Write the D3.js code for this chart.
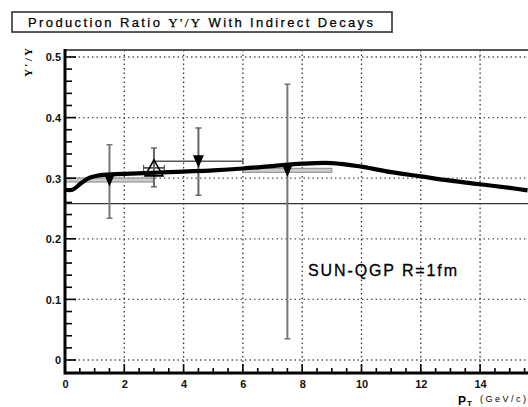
<!DOCTYPE html>
<html><head><meta charset="utf-8">
<script src="https://cdn.jsdelivr.net/npm/d3@7"></script>
<style>body{margin:0;background:#fff} svg{display:block}</style>
</head><body>
<svg id="c" width="528" height="407"></svg>
<script>
// ---- data ----
const xTickValues = [0, 2, 4, 6, 8, 10, 12, 14];
const xTickLabels = ["0", "2", "4", "6", "8", "10", "12", "14"];
const yTickValues = [0, 0.1, 0.2, 0.3, 0.4, 0.5];
const yTickLabels = ["0", "0.1", "0.2", "0.3", "0.4", "0.5"];

// SUN-QGP R=1fm model curve
const curveX = [0, 0.25, 0.5, 0.8, 1.2, 2, 3, 4, 5, 6, 7, 8, 9, 10, 11, 12, 13, 14, 15, 15.6];
const curveY = [0.281, 0.281, 0.29, 0.30, 0.305, 0.307, 0.309, 0.311, 0.313, 0.316, 0.32, 0.324, 0.325, 0.319, 0.31, 0.303, 0.296, 0.29, 0.284, 0.28];

// reference horizontal line
const refLevel = 0.258;

// grey series (filled down triangles, grey bars)
const greyX = [1.5, 7.5];
const greyY = [0.297, 0.313];
const greyXErr = [1.5, 1.5];
const greyYLow = [0.234, 0.035];
const greyYHigh = [0.355, 0.455];

// black series, filled down triangle
const blackX = [4.5];
const blackY = [0.328];
const blackXErr = [1.5];
const blackYLow = [0.272];
const blackYHigh = [0.383];

// open up triangle
const openX = [3.0];
const openY = [0.317];
const openXErr = [0.35];
const openYLow = [0.286];
const openYHigh = [0.35];

// ---- layout ----
const svg = d3.select("#c");
const W = 528, H = 407;
const x = d3.scaleLinear().domain([0, 16]).range([65, 539.4]);
const y = d3.scaleLinear().domain([0, 0.5]).range([360, 57]);
const yTop = y.invert(50), yBot = y.invert(373);

svg.append("rect").attr("width", W).attr("height", H).attr("fill", "#fff");

const defs = svg.append("defs");
defs.append("clipPath").attr("id", "clip").append("rect")
  .attr("x", x(0)).attr("y", y(yTop)).attr("width", x(16) - x(0)).attr("height", y(yBot) - y(yTop));

const plot = svg.append("g").attr("clip-path", "url(#clip)");

// grid
plot.selectAll(".hg").data(yTickValues).join("line")
  .attr("x1", x(0)).attr("x2", x(16)).attr("y1", d => y(d)).attr("y2", d => y(d))
  .attr("stroke", "#555").attr("stroke-width", 1.3).attr("stroke-dasharray", "1.5,3");
plot.selectAll(".vg").data([2, 4, 6, 8, 10, 12, 14]).join("line")
  .attr("x1", d => x(d)).attr("x2", d => x(d)).attr("y1", y(yTop)).attr("y2", y(yBot))
  .attr("stroke", "#333").attr("stroke-width", 1.3).attr("stroke-dasharray", "1.5,3");

// reference line
plot.append("line").attr("x1", x(0)).attr("x2", x(16)).attr("y1", y(refLevel)).attr("y2", y(refLevel))
  .attr("stroke", "#333").attr("stroke-width", 1.3);

// grey error bars
greyX.forEach((xv, i) => {
  plot.append("rect").attr("x", x(xv - greyXErr[i])).attr("y", y(greyY[i]) - 2)
    .attr("width", x(xv + greyXErr[i]) - x(xv - greyXErr[i])).attr("height", 4)
    .attr("fill", "#ccc").attr("stroke", "#888").attr("stroke-width", 1);
  plot.append("line").attr("x1", x(xv)).attr("x2", x(xv)).attr("y1", y(greyYLow[i])).attr("y2", y(greyYHigh[i]))
    .attr("stroke", "#777").attr("stroke-width", 2);
  [greyYLow[i], greyYHigh[i]].forEach(v => plot.append("line")
    .attr("x1", x(xv) - 3).attr("x2", x(xv) + 3).attr("y1", y(v)).attr("y2", y(v))
    .attr("stroke", "#777").attr("stroke-width", 1.5));
});

// black/open error bars
function errBars(xs, ys, xe, lo, hi) {
  xs.forEach((xv, i) => {
    plot.append("line").attr("x1", x(xv - xe[i])).attr("x2", x(xv + xe[i])).attr("y1", y(ys[i])).attr("y2", y(ys[i]))
      .attr("stroke", "#555").attr("stroke-width", 1.6);
    [xv - xe[i], xv + xe[i]].forEach(e => plot.append("line")
      .attr("x1", x(e)).attr("x2", x(e)).attr("y1", y(ys[i]) - 3).attr("y2", y(ys[i]) + 3)
      .attr("stroke", "#555").attr("stroke-width", 1.2));
    plot.append("line").attr("x1", x(xv)).attr("x2", x(xv)).attr("y1", y(lo[i])).attr("y2", y(hi[i]))
      .attr("stroke", "#666").attr("stroke-width", 2);
    [lo[i], hi[i]].forEach(v => plot.append("line")
      .attr("x1", x(xv) - 3).attr("x2", x(xv) + 3).attr("y1", y(v)).attr("y2", y(v))
      .attr("stroke", "#666").attr("stroke-width", 1.5));
  });
}
errBars(blackX, blackY, blackXErr, blackYLow, blackYHigh);
errBars(openX, openY, openXErr, openYLow, openYHigh);

// curve
const line = d3.line().x(d => x(d[0])).y(d => y(d[1])).curve(d3.curveCatmullRom.alpha(0.5));
plot.append("path").datum(curveX.map((v, i) => [v, curveY[i]]))
  .attr("d", line).attr("fill", "none").attr("stroke", "#000").attr("stroke-width", 4.2)
  .attr("stroke-linejoin", "round");

// markers
const downTri = (cx, cy, s) => `M${cx - s * 0.5},${cy - s * 0.55}L${cx + s * 0.5},${cy - s * 0.55}L${cx},${cy + s * 0.6}Z`;
greyX.concat(blackX).forEach((xv, i) => {
  const yv = greyY.concat(blackY)[i];
  plot.append("path").attr("d", downTri(x(xv), y(yv), 11)).attr("fill", "#000");
});
openX.forEach((xv, i) => {
  const cx = x(xv), cy = y(openY[i]);
  plot.append("path").attr("d", `M${cx - 9},${cy + 8}L${cx + 9},${cy + 8}L${cx},${cy - 8}Z`)
    .attr("fill", "none").attr("stroke", "#000").attr("stroke-width", 1.6);
});

// frame top
svg.append("line").attr("x1", x(0)).attr("x2", W).attr("y1", 50).attr("y2", 50)
  .attr("stroke", "#555").attr("stroke-width", 2.2);

// axes
const fontT = "'Liberation Sans', Arial, sans-serif";
const xMinor = d3.range(0, 16.01, 0.5);
svg.selectAll(".xmin").data(xMinor).join("line")
  .attr("x1", d => x(d)).attr("x2", d => x(d)).attr("y1", 373)
  .attr("y2", d => (d % 2 === 0) ? 364 : 368)
  .attr("stroke", "#000").attr("stroke-width", 1.6);
const yMinor = d3.range(0, 0.511, 0.02);
svg.selectAll(".ymin").data(yMinor).join("line")
  .attr("x1", 65).attr("x2", (d, i) => (i % 5 === 0) ? 76 : 72)
  .attr("y1", d => y(d)).attr("y2", d => y(d))
  .attr("stroke", "#000").attr("stroke-width", 1.6);

const xAxis = d3.axisBottom(x).tickValues(xTickValues).tickSize(0).tickFormat((d, i) => xTickLabels[i]);
const gx = svg.append("g").attr("transform", "translate(0,373)").call(xAxis);
gx.select(".domain").remove();
gx.selectAll("text").attr("dy", null).attr("y", 15).attr("font-family", fontT)
  .attr("font-size", 11).attr("font-weight", "bold").attr("fill", "#111");

const yAxis = d3.axisLeft(y).tickValues(yTickValues).tickSize(0).tickFormat((d, i) => yTickLabels[i]);
const gy = svg.append("g").attr("transform", "translate(65,0)").call(yAxis);
gy.select(".domain").remove();
gy.selectAll("text").attr("x", -4).attr("dy", "0.35em").attr("font-family", fontT)
  .attr("font-size", 11).attr("font-weight", "bold").attr("fill", "#111");

svg.append("line").attr("x1", 65).attr("x2", W).attr("y1", 373).attr("y2", 373)
  .attr("stroke", "#000").attr("stroke-width", 3);
svg.append("line").attr("x1", 65).attr("x2", 65).attr("y1", 49).attr("y2", 374.5)
  .attr("stroke", "#000").attr("stroke-width", 3);

// title box
svg.append("rect").attr("x", 12).attr("y", 12).attr("width", 380).attr("height", 20)
  .attr("fill", "#fff").attr("stroke", "#333").attr("stroke-width", 1.6);
svg.append("line").attr("x1", 14).attr("x2", 393).attr("y1", 32.5).attr("y2", 32.5).attr("stroke", "#555").attr("stroke-width", 1.2);
const tt = svg.append("text").attr("x", 28).attr("y", 27).attr("font-family", fontT)
  .attr("font-size", 13).attr("fill", "#000").attr("stroke", "#000").attr("stroke-width", 0.25)
  .attr("textLength", 345).attr("lengthAdjust", "spacing");
tt.append("tspan").text("Production Ratio   ");
tt.append("tspan").attr("font-family", "'Liberation Serif', serif").text("Υ'/Υ");
tt.append("tspan").text(" With Indirect Decays");

// y label
svg.append("text").attr("transform", "translate(32,77) rotate(-90)")
  .attr("font-family", "'Liberation Serif', serif").attr("font-size", 11).attr("font-weight", "bold")
  .attr("textLength", 29).attr("lengthAdjust", "spacing").text("Υ'/Υ");

// x label
svg.append("text").attr("x", 458).attr("y", 405).attr("font-family", fontT).attr("font-size", 12)
  .attr("font-weight", "bold").text("P");
svg.append("text").attr("x", 467).attr("y", 406).attr("font-family", fontT).attr("font-size", 8)
  .attr("font-weight", "bold").text("T");
svg.append("text").attr("x", 480).attr("y", 402).attr("font-family", fontT).attr("font-size", 9)
  .attr("textLength", 46).attr("lengthAdjust", "spacing").text("(GeV/c)");

// model label
svg.append("text").attr("x", 308).attr("y", 276).attr("font-family", fontT).attr("font-size", 16)
  .attr("stroke", "#000").attr("stroke-width", 0.3)
  .attr("textLength", 149).attr("lengthAdjust", "spacing").text("SUN-QGP R=1fm");
</script>
</body></html>
